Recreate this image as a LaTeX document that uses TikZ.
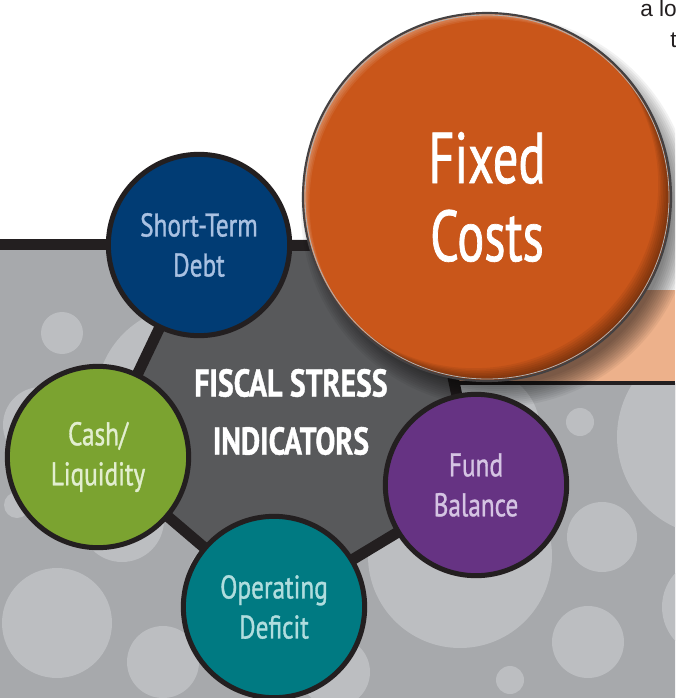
\documentclass[tikz,border=0pt]{standalone}
\usepackage{fontspec}
\setmainfont{Liberation Sans}
\newfontfamily\cnd[FakeStretch=0.77, FakeBold=1]{PT Sans}
\newfontfamily\cnbig[FakeStretch=0.70, FakeBold=1]{PT Sans}
\usetikzlibrary{calc}
\definecolor{bggray}{HTML}{A7A9AC}
\definecolor{bubble}{HTML}{BCBEC1}
\definecolor{pent}{HTML}{58595B}
\definecolor{ink}{HTML}{231F20}
\definecolor{navy}{HTML}{013C74}
\definecolor{navytxt}{HTML}{A9C1E2}
\definecolor{grn}{HTML}{7BA330}
\definecolor{grntxt}{HTML}{E2EECF}
\definecolor{tealc}{HTML}{007A82}
\definecolor{tealtxt}{HTML}{B0DDDE}
\definecolor{purp}{HTML}{663383}
\definecolor{purptxt}{HTML}{D5C4E3}
\definecolor{orng}{HTML}{C9561A}
\definecolor{peach}{HTML}{EDB18B}
\begin{document}
\begin{tikzpicture}[x=0.75pt,y=-0.75pt,
  indic/.style={circle, draw=ink, line width=3.75pt, minimum size=136pt, inner sep=0pt,
    align=center, font=\fontsize{24.6}{30}\selectfont\cnd},
  link/.style={draw=ink, line width=8.25pt, line join=miter},
  bub/.style={fill=bubble},
  toptext/.style={anchor=base west, inner sep=0pt, text=ink, font=\fontsize{17}{20}\selectfont}]
\useasboundingbox (0,0) rectangle (675,698);
\clip (0,0) rectangle (675,698);
\fill[white] (0,0) rectangle (675,698);
% text at top right
\node[toptext] (topa) at (640,17) {a lo};
\node[toptext] (topb) at (670,48) {t};
% grey background
\fill[bggray] (0,247) -- (440,247) -- (440,383) -- (675,383) -- (675,698) -- (0,698) -- cycle;
\begin{scope}
\clip (0,247) -- (440,247) -- (440,383) -- (675,383) -- (675,698) -- (0,698) -- cycle;
\foreach \cx/\cy/\r in {62/333/21, 190/400/94, 41/425/38, 17/505/13, 122/520/42,
    57/623/55, 163/662/36, 225/580/38, 335/672/35, 460/556/92, 480/430/60,
    580/422/14, 716/437/99, 602/537/35, 588/642/36, 510/680/14, 712/607/50}
  \fill[bub] (\cx,\cy) circle[radius=\r];
\end{scope}
% peach panel
\fill[peach] (440,290) rectangle (675,383);
\draw[ink, line width=2.6pt] (440,383) -- (675,383);
% coordinates
\coordinate (edgeL) at (0,245);
\coordinate (cDebt) at (199,245);
\coordinate (cCash) at (98,457);
\coordinate (cOper) at (274,607);
\coordinate (cFund) at (476,485);
\coordinate (cFix) at (425,246);
\coordinate (cFC) at (487,197);
% links and pentagon
\draw[link] (edgeL) -- (cDebt);
\filldraw[fill=pent, link] (cDebt) -- (cFix) -- (cFund) -- (cOper) -- (cCash) -- cycle;
% shadow of big circle
\foreach \k in {0,...,11}
  \fill[black, opacity=0.05] ($(cFC)+(10,14)$) circle[radius={196-2*\k}];
% indicator circles
\node[indic, fill=navy, text=navytxt] (debt) at (cDebt) {Short-Term\\Debt};
\node[indic, fill=grn, text=grntxt] (cash) at (cCash) {Cash/\\Liquidity};
\node[indic, fill=tealc, text=tealtxt] (oper) at (cOper) {Operating\\Deficit};
\node[indic, fill=purp, text=purptxt] (fund) at (cFund) {Fund\\Balance};
% title
\node[text=white, align=center, font=\fontsize{29}{43.5}\selectfont\cnd\bfseries] (title) at (291,412) {FISCAL STRESS\\INDICATORS};
% big circle
\node[circle, fill=orng, minimum size=276pt, inner sep=0pt, text=white, align=center,
  font=\fontsize{54}{58.5}\selectfont\cnbig] (fixed) at (cFC) {Fixed\\Costs};
\begin{scope}
\clip (cFC) circle[radius=184];
\foreach \k in {1,...,8}
  \fill[black, opacity=0.06, even odd rule] (cFC) circle[radius=184] ($(cFC)+({-1.6*\k},{-1.6*\k})$) circle[radius=184];
\foreach \k in {1,...,5}
  \fill[white, opacity=0.08, even odd rule] (cFC) circle[radius=184] ($(cFC)+({1.3*\k},{1.3*\k})$) circle[radius=184];
\end{scope}
\draw[ink!85, line width=1.6pt] (cFC) circle[radius=184];
\draw[gray!60, line width=0.6pt] (cFC) circle[radius=182];
\end{tikzpicture}
\end{document}
